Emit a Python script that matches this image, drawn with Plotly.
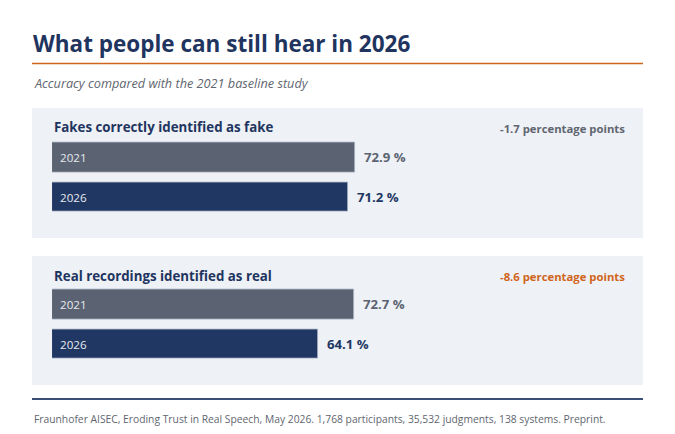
import plotly.graph_objects as go

W, H = 675, 434
OFF = 8  # page body margin

title = 'What people can still hear in 2026'
subtitle = 'Accuracy compared with the 2021 baseline study'
source = 'Fraunhofer AISEC, Eroding Trust in Real Speech, May 2026. 1,768 participants, 35,532 judgments, 138 systems. Preprint.'

panels = ['Fakes correctly identified as fake', 'Real recordings identified as real']
years = ['2021', '2026']
fakes_acc = [72.9, 71.2]
real_acc = [72.7, 64.1]
deltas = ['-1.7 percentage points', '-8.6 percentage points']

Colors = dict(
  title='#1f3560',
  accent='#d0651c',
  sub='#5f6670',
  panel='#eef1f6',
  old='#5b6372',
  new='#213763',
  old_txt='#5b6372',
  new_txt='#213763',
  foot='#5f6670',
)
FONT = 'Open Sans'

def px_x(p): return (p - OFF) / W
def px_y(p): return 1 - (p - OFF) / H

fig = go.Figure()

# panel geometry in pixels: (panel top, panel bottom, bars top, bars bottom)
geo = [(108, 238, 137.5, 217), (256, 385, 284.5, 364)]
data = [fakes_acc, real_acc]
delta_col = [Colors['sub'], Colors['accent']]

shapes = []
annos = []
for i, (vals, (pt, pb, bt, bb)) in enumerate(zip(data, geo)):
  n = '' if i == 0 else str(i + 1)
  xa, ya = 'x' + n, 'y' + n
  fig.add_trace(go.Bar(
    x=vals, y=years, orientation='h', xaxis=xa, yaxis=ya,
    marker=dict(color=[Colors['old'], Colors['new']], line=dict(color='#aab3c3', width=0.8)),
    width=0.74, hoverinfo='skip', showlegend=False))
  fig.layout['xaxis' + n] = dict(domain=[px_x(52), px_x(467.6)], range=[0, 100], visible=False, fixedrange=True)
  fig.layout['yaxis' + n] = dict(domain=[px_y(bb), px_y(bt)], range=[1.5, -0.5], visible=False,
                                 type='category', fixedrange=True)
  shapes.append(dict(type='rect', xref='paper', yref='paper', x0=px_x(32), x1=px_x(643),
                     y0=px_y(pb), y1=px_y(pt), fillcolor=Colors['panel'], line=dict(width=0), layer='below'))
  annos.append(dict(text='<b>' + panels[i] + '</b>', xref='paper', yref='paper', x=px_x(52), y=px_y(pt + 19.5),
                    xanchor='left', yanchor='middle', showarrow=False,
                    font=dict(family=FONT, size=13.3, color=Colors['title'])))
  annos.append(dict(text='<b>' + deltas[i] + '</b>', xref='paper', yref='paper', x=px_x(627), y=px_y(pt + 20),
                    xanchor='right', yanchor='middle', showarrow=False,
                    font=dict(family=FONT, size=11.3, color=delta_col[i])))
  for j, (yr, v) in enumerate(zip(years, vals)):
    annos.append(dict(text=yr, xref=xa, yref=ya, x=0, y=j, xanchor='left', xshift=6, showarrow=False,
                      font=dict(family=FONT, size=11.6, color='#e6e9ef')))
    annos.append(dict(text='<b>%.1f %%</b>' % v, xref=xa, yref=ya, x=v, y=j, xanchor='left', xshift=7,
                      showarrow=False,
                      font=dict(family=FONT, size=13.2, color=[Colors['old_txt'], Colors['new_txt']][j])))

shapes.append(dict(type='line', xref='paper', yref='paper', x0=px_x(32), x1=px_x(643), y0=px_y(63.5), y1=px_y(63.5),
                   line=dict(color=Colors['accent'], width=1.6)))
shapes.append(dict(type='line', xref='paper', yref='paper', x0=px_x(32), x1=px_x(643), y0=px_y(399), y1=px_y(399),
                   line=dict(color='#3b4f78', width=2)))

annos.append(dict(text='<b>' + title + '</b>', xref='paper', yref='paper', x=px_x(31), y=px_y(43),
                  xanchor='left', yanchor='middle', showarrow=False,
                  font=dict(family=FONT, size=22.5, color=Colors['title'])))
annos.append(dict(text='<i>' + subtitle + '</i>', xref='paper', yref='paper', x=px_x(32), y=px_y(83),
                  xanchor='left', yanchor='middle', showarrow=False,
                  font=dict(family=FONT, size=12.7, color=Colors['sub'])))
annos.append(dict(text=source, xref='paper', yref='paper', x=px_x(32), y=px_y(419),
                  xanchor='left', yanchor='middle', showarrow=False,
                  font=dict(family=FONT, size=10.3, color=Colors['foot'])))

fig.update_layout(width=W, height=H, margin=dict(l=0, r=0, t=0, b=0),
                  paper_bgcolor='white', plot_bgcolor='rgba(0,0,0,0)',
                  shapes=shapes, annotations=annos, bargap=0)
fig.write_html('out.html', config=dict(displayModeBar=False))
